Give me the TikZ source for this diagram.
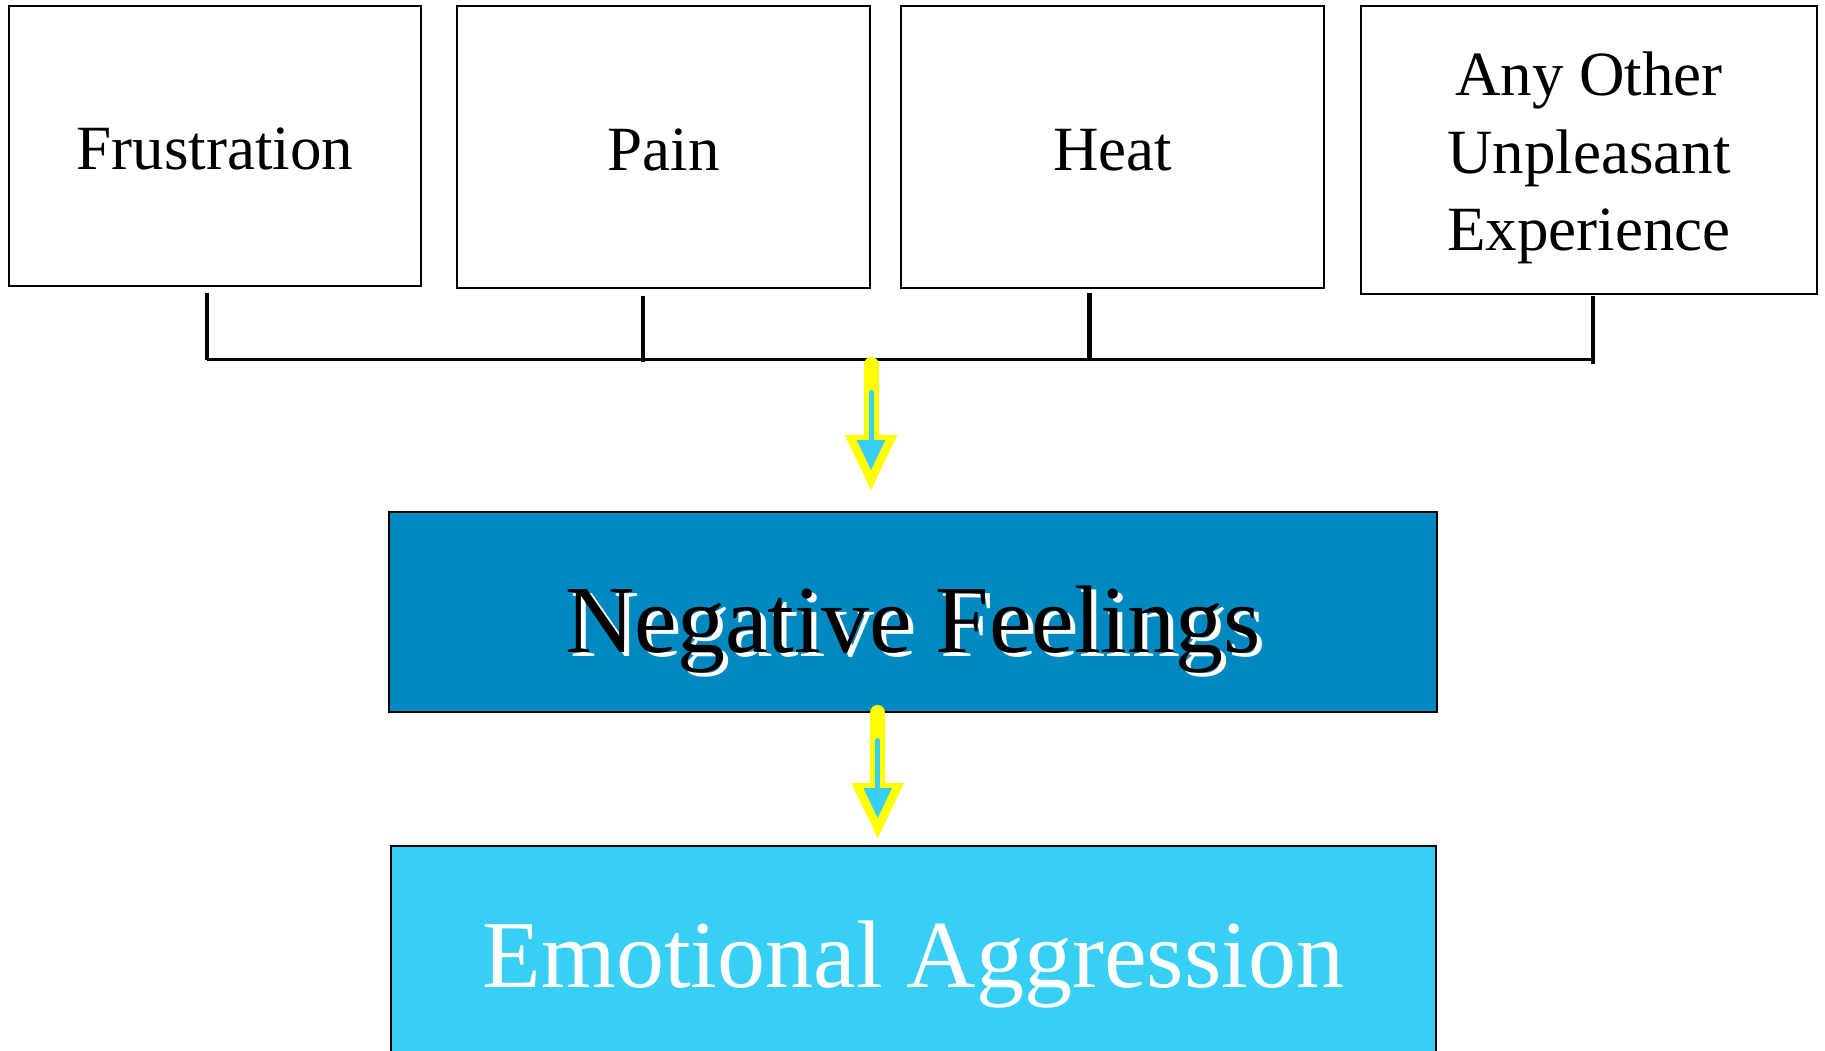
\documentclass[tikz,border=0pt]{standalone}
\usepackage{fontspec}
\setmainfont{Liberation Serif}
\definecolor{negblue}{RGB}{0,136,192}
\definecolor{emocyan}{RGB}{56,207,244}
\definecolor{arrowyellow}{RGB}{255,255,0}
\tikzset{
  topbox/.style={draw=black, line width=1.6pt, fill=white, inner sep=0pt, outer sep=0pt,
    font=\fontsize{63}{77}\selectfont, align=center, text height=47pt, text depth=0pt},
  bigbox/.style={draw=black, line width=2pt, inner sep=0pt, outer sep=0pt,
    font=\fontsize{96}{110}\selectfont},
  tickline/.style={line width=4.5pt, black},
  busline/.style={line width=2.2pt, black},
  fatarrow/.pic={
    \draw[arrowyellow, line width=15pt, line cap=round] (0,7.5) -- (0,80);
    \fill[arrowyellow] (-26.3,78) -- (26.3,78) -- (0,133) -- cycle;
    \draw[emocyan, line width=5pt, line cap=round] (0,35.5) -- (0,86);
    \fill[emocyan] (-14.3,83) -- (14.3,83) -- (0,113) -- cycle;
  }
}
\begin{document}
\begin{tikzpicture}[x=1pt,y=-1pt]
\useasboundingbox (0,0) rectangle (1825,1051);
\clip (0,0) rectangle (1825,1051);
\fill[white] (0,0) rectangle (1825,1051);

% top boxes
\node[topbox, minimum width=412pt, minimum height=280pt] (F) at (215,146) {Frustration};
\node[topbox, minimum width=413pt, minimum height=282pt] (P) at (663.5,147) {Pain};
\node[topbox, minimum width=423pt, minimum height=282pt] (H) at (1112.5,147) {Heat};
\node[topbox, minimum width=456pt, minimum height=288pt, text height=200pt, text depth=0pt] (A) at (1589,150)
  {Any Other\\Unpleasant\\Experience};

% bus coordinates
\coordinate (b1) at (207,359.5);
\coordinate (b2) at (643,361.5);
\coordinate (b3) at (1089.5,359.5);
\coordinate (b4) at (1593,363.5);

\draw[tickline] (F.south -| b1) ++(0,7) -- (b1);
\draw[tickline] (P.south -| b2) ++(0,8) -- (b2);
\draw[tickline] (H.south -| b3) ++(0,5) -- (b3);
\draw[tickline] (A.south -| b4) ++(0,2) -- (b4);
\draw[busline] (b1) -- (b4 |- b1);

% lower boxes
\node[bigbox, fill=negblue, minimum width=1048pt, minimum height=200pt, text height=80pt, text depth=0pt] (N) at (913,612)
  {\makebox[0pt][l]{\raisebox{-4pt}{\hspace{5pt}\color{white}Negative Feelings}}Negative Feelings};
\node[bigbox, fill=emocyan, text=white, minimum width=1045pt, minimum height=214pt, text height=68pt, text depth=0pt] (E) at (913.5,953)
  {Emotional Aggression};

% arrows
\coordinate (a1) at (871,357);
\coordinate (a2) at (877.7,705);
\pic at (a1) {fatarrow};
\pic at (a2) {fatarrow};
\end{tikzpicture}
\end{document}
